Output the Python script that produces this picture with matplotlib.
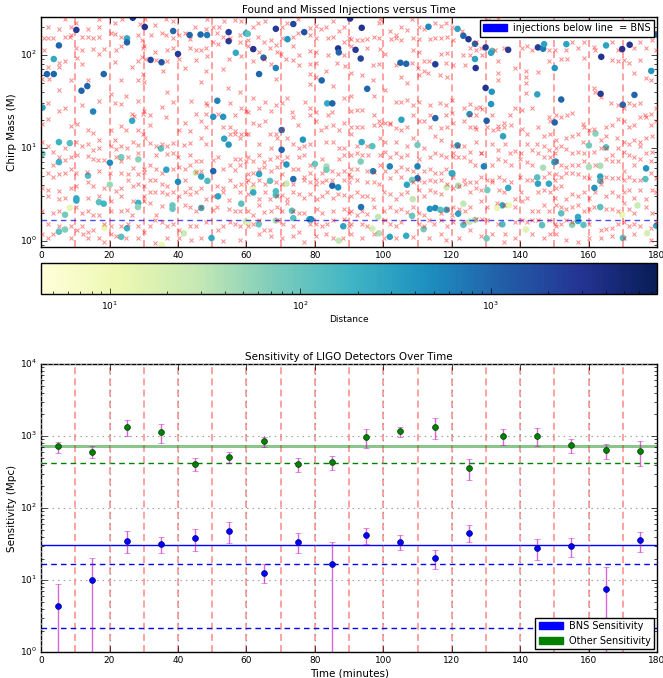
import numpy as np
import matplotlib
matplotlib.use('Agg')
import matplotlib.pyplot as plt
from matplotlib.colors import LogNorm
import matplotlib.patches as mpatches
import matplotlib.cm as cm

# ---------------- data: top panel ----------------
# found injections: (time [min], chirp mass, distance)
found_0_30 = [(26.8,250,3000),(10.3,185,2500),(25.1,150,250),(25.1,136,1000),(5.2,126,1000),
    (3.7,90,250),(1.7,62,1000),(3.7,62,1000),(18.3,62,1000),(13.5,46,1000),(11.8,41,1000),(0.4,27,300),
    (15.2,24.5,600),(26.6,19.5,250),(5.2,11.5,200),(8.4,11.2,130),(0.4,8.6,100),(23.4,7.9,80),(28.4,7.5,60),
    (5.2,7.0,200),(20.1,6.9,500),(13.7,5.0,150),(20.1,4.0,50),(10.3,2.85,250),(10.3,2.7,250),(16.9,2.6,120),
    (18.3,2.5,180),(28.4,2.55,200),(28.3,2.3,60),(8.4,2.25,12),(7.0,1.9,80),(18.5,1.38,12),(25.1,1.36,200),
    (5.2,1.25,120),(7.0,1.32,70),(23.4,1.1,120)]
found_30_60 = [(30.3,199,3000),(38.6,180,1000),(43.4,163,1000),(46.6,165,1000),(48.5,163,700),(54.8,175,2500),
    (54.8,140,2500),(59.9,170,300),(56.9,105,250),(32.0,88,2000),(35.2,83,1500),(40.0,102,2500),(51.5,32,600),
    (50.3,21.5,400),(53.2,21.5,400),(53.5,12.5,300),(54.8,10.8,400),(35.0,9.8,120),(36.6,5.8,300),(40.0,4.3,500),
    (45.2,5.4,25),(46.8,4.9,300),(48.6,4.4,150),(50.3,5.6,1000),(51.7,3.0,300),(38.4,2.4,100),(38.4,2.2,100),
    (46.8,2.25,200),(58.5,2.5,120),(41.7,1.2,25),(49.8,1.07,250),(35.2,0.9,12),(59.9,1.6,30)]
found_60_90 = [(73.7,214,2000),(68.6,190,2500),(76.9,175,1500),(60.4,168,120),(72.0,147,400),(86.8,117,3000),
    (87.0,106,1000),(62.0,115,3000),(65.0,93,1000),(68.6,72,600),(63.7,62,1000),(82.0,53,1000),(83.6,30,250),
    (85.1,30,1000),(70.3,15.5,800),(76.5,12.2,400),(70.3,9.5,1000),(71.7,6.6,400),(80.0,6.7,100),(83.4,6.3,40),
    (83.4,5.8,80),(63.7,5.2,300),(73.7,4.6,900),(66.9,4.4,120),(85.1,3.9,1000),(86.8,3.75,500),(71.7,4.1,25),
    (61.8,3.6,15),(62.0,3.3,250),(68.6,3.4,150),(68.6,3.1,150),(73.3,2.1,120),(73.7,1.75,120),(78.4,1.7,300),
    (78.9,1.7,500),(68.6,1.65,40),(63.6,1.5,100),(60.4,1.57,15),(88.3,1.43,300),(87.0,1.0,30)]
found_90_120 = [(90.3,245,3000),(93.7,195,3000),(113.2,200,500),(91.9,113,2500),(93.4,91,2000),(105.0,82,1000),
    (106.7,80,1000),(115.2,79,2500),(95.3,43,1000),(105.3,20,300),(115.2,20.8,1000),(93.7,11.5,250),(96.8,10.4,120),
    (93.4,7.1,70),(110.0,10.7,80),(101.9,6.3,600),(97.0,5.6,600),(110.0,6.3,600),(110.0,4.7,900),(108.4,4.5,80),
    (106.9,4.0,300),(120.0,5.3,250),(118.5,3.75,25),(108.6,2.8,30),(93.5,2.3,800),(113.6,2.2,400),(115.2,2.25,500),
    (116.7,2.15,120),(118.5,2.15,300),(98.5,1.8,30),(108.4,1.85,100),(96.8,1.35,20),(98.7,1.2,40),(101.9,1.1,300),
    (106.7,1.13,250),(111.8,1.33,80)]
found_120_150 = [(121.7,190,300),(123.4,160,1000),(124.9,147,3000),(126.8,131,1000),(129.9,120,2500),(131.8,110,120),
    (131.5,105,300),(136.5,113,2500),(145.2,120,2500),(146.7,116,700),(147.0,130,300),(126.8,90,300),(127.0,72,3000),
    (150.1,72,400),(129.9,44,3000),(131.7,40,400),(131.5,29.5,400),(145.0,37.5,300),(125.2,23,400),(130.2,19.5,1200),
    (135.0,13.3,300),(121.7,10.6,400),(129.4,6.3,600),(120.2,5.3,250),(136.5,3.7,250),(146.7,6.1,40),(145.0,4.8,130),
    (145.2,4.1,300),(148.4,4.1,250),(150.0,7.0,300),(130.4,3.5,80),(134.8,2.4,250),(136.7,2.4,12),(133.3,2.25,12),
    (123.4,2.5,30),(121.9,1.95,300),(123.4,1.48,130),(125.2,1.6,30),(126.8,1.67,40),(134.8,1.5,150),(141.7,1.32,15),
    (146.4,1.47,120),(130.2,1.06,80),(121.9,3.9,40)]
found_150_180 = [(153.5,130,300),(165.1,126,300),(169.8,115,3000),(172.0,128,3000),(163.7,95,3000),(178.3,67,400),
    (152.0,33,1000),(163.5,38,2500),(173.4,37,1000),(170.0,29,1000),(150.1,18.7,1000),(179.8,165,1000),(162.0,14.2,60),
    (160.1,10.6,80),(165.1,10.1,120),(150.4,7.1,400),(160.1,6.2,40),(163.4,6.4,40),(163.4,4.9,300),(163.4,4.4,150),
    (161.7,3.7,400),(176.8,6.0,400),(176.6,4.6,120),(174.3,2.4,25),(152.0,1.97,120),(163.4,2.3,120),(156.9,1.8,250),
    (156.9,1.63,250),(158.5,1.48,120),(155.2,1.48,60),(169.8,1.9,12),(170.0,1.07,120),(177.1,1.2,20),(179.8,1.45,300)]

# missed injections: (time [min], chirp mass)
missed_0_30 = [(6.9,245),(16.8,245),(10.1,222),(2.0,199),(5.1,191),(8.8,199),(13.7,190),(16.9,199),(21.5,219),(23.7,245),(29.0,215),
    (0.9,150),(2.0,150),(3.5,150),(6.9,157),(8.8,165),(8.5,157),(12.0,154),(13.7,157),(15.1,150),(16.9,154),(20.3,172),(21.7,168),(23.4,154),(28.3,165),(29.4,145),
    (0.8,113),(10.3,118),(12.0,113),(15.1,115),(16.9,103),(18.5,115),(21.9,113),(23.4,124),(29.7,118),
    (5.1,81),(2.0,74),(5.1,73),(6.9,85),(10.6,93),(12.0,80),(21.7,84),(26.6,74),(28.3,85),(29.6,95),
    (0.4,55),(2.2,55),(5.1,42),(8.8,53),(13.7,53),(16.9,32),(20.3,38),(23.4,53),(28.3,53),(29.7,62),
    (2.0,30),(5.1,25),(6.9,27),(12.0,29),(21.7,30),(23.4,29.5),(24.9,36),(27.1,22),(28.3,32),(29.7,23),(26.6,23),
    (2.0,20.4),(0.4,18),(8.8,17),(10.5,18.2),(13.7,15.4),(15.1,14.3),(16.9,12.2),(20.3,15.4),(21.7,12.2),(23.4,17.2),(24.9,15.4),(28.3,15.4),(29.7,14),
    (0.4,11.6),(2.0,10.5),(3.5,9),(6.9,10),(8.8,7.9),(10.3,11.6),(12.0,10.5),(13.7,11),(15.1,9.5),(16.9,10),(20.3,10.5),(21.8,9.7),(23.4,10.5),(25.1,10),(26.8,11.6),(28.3,10.8),
    (3.5,6.5),(5.1,7.9),(7.1,7.3),(10.5,8.4),(13.7,8.1),(15.1,7.5),(16.6,7.4),(18.5,7.4),(21.8,7.9),(23.4,7.2),(25.3,7.9),(28.3,8.7),
    (2.0,5.4),(3.5,4.9),(5.1,5.2),(6.9,5.4),(8.8,5.9),(10.3,5.4),(13.5,5.5),(16.9,5.6),(20.1,5.4),(23.4,5.4),(25.3,5.2),(26.8,6.0),(28.3,5.2),(30.0,5.5),
    (0.4,3.7),(2.0,3.55),(5.1,3.4),(8.6,3.7),(10.3,3.9),(13.7,4.3),(15.1,3.9),(18.5,3.7),(21.8,3.4),(23.4,3.7),(25.3,4.5),(26.8,3.9),(28.3,4.07),
    (2.0,3.06),(5.1,2.8),(6.9,2.9),(10.3,2.3),(13.7,2.9),(16.9,3.06),(20.3,2.66),(23.4,3.06),(25.1,2.15),(26.8,2.66),(30.0,2.66),
    (0.4,2.09),(3.5,2.0),(5.1,2.09),(12.0,2.0),(13.7,2.09),(15.1,1.91),(16.9,1.91),(20.3,2.09),(23.4,2.09),(26.6,1.91),
    (2.0,1.5),(5.1,1.43),(8.8,1.43),(10.5,1.3),(12.0,1.43),(13.7,1.24),(15.1,1.3),(18.5,1.5),(20.3,1.43),(23.4,1.43),(25.3,1.5),(28.3,1.43),
    (0.4,1.19),(2.0,1.08),(3.5,1.19),(8.8,1.08),(12.2,1.17),(13.7,1.08),(16.9,1.08),(18.5,0.98),(20.3,1.19),(21.8,1.13),(24.9,1.08),(28.3,1.08)]
missed_30_60 = [(30.3,245),(36.6,245),(38.6,231),(48.6,245),(50.3,201),(51.9,197),(53.5,231),(56.8,237),(58.3,231),(33.4,210),
    (32.0,165),(35.2,173),(36.6,165),(38.6,150),(40.3,165),(42.0,173),(43.4,147),(45.1,199),(48.3,191),(51.5,173),(53.2,157),(55.1,150),(58.0,165),
    (30.0,124),(33.4,106),(36.8,113),(38.6,118),(43.4,118),(45.2,113),(46.8,113),(48.3,118),(50.3,136),(51.8,131),(58.0,136),
    (30.5,89),(33.7,87),(36.8,85),(40.2,89),(45.4,87),(48.6,97),(54.9,89),(58.3,97),
    (35.6,67),(42.0,72),(48.3,67),(53.2,70),
    (30.1,51),(36.8,40),(46.8,51),(54.6,44),(58.0,40),
    (38.6,31),(43.7,32),(48.3,30),(48.6,28.5),(55.1,30),
    (30.1,24.7),(35.2,27.5),(58.3,27),(31.9,22.4),(36.6,21.5),(45.4,22.8),(48.3,22.8),(51.8,22.8),(56.8,22.4),(60.0,24.7),
    (31.9,17.7),(42.0,18.6),(40.3,15.4),(43.4,15.1),(46.8,19.6),(48.3,16.9),(55.1,16.9),(56.6,15.1),(58.3,14.0),
    (30.3,12.7),(31.8,11.2),(33.7,10.5),(35.2,10.9),(36.8,10.5),(38.6,11.2),(41.8,10.7),(43.4,11.2),(46.8,12.7),(48.3,10.9),(53.2,16.9),(55.1,14),(56.6,14),(58.0,12.7),(60.0,14.2),
    (33.7,8.3),(36.8,8.5),(38.6,8.7),(40.0,7.9),(43.4,8.3),(45.4,7.2),(46.8,7.2),(50.1,7.4),(51.7,7.9),(56.6,7.6),(58.0,7.6),(59.8,7.2),
    (30.1,5.9),(31.8,6.5),(33.7,5.9),(35.2,5.4),(38.6,5.9),(40.3,6.2),(42.0,5.9),(43.4,6.5),(45.2,5.5),(46.8,5.6),(53.2,5.9),(55.1,6.5),(56.6,5.8),(58.0,6.5),
    (30.1,3.9),(31.8,4.5),(33.4,4.5),(35.2,4.07),(36.8,3.9),(42.0,4.5),(43.4,3.7),(46.8,3.7),(51.5,3.9),(53.2,3.7),(55.1,4.5),(56.6,3.9),(58.3,4.07),(59.8,4.3),
    (30.1,3.06),(31.8,3.37),(33.4,3.37),(35.2,3.3),(36.8,3.2),(38.6,3.37),(40.3,3.0),(42.0,3.37),(43.4,3.2),(45.2,3.37),(48.3,2.79),(50.3,3.0),(53.2,3.37),(54.9,2.75),(58.2,3.37),
    (31.9,2.53),(33.7,1.91),(35.2,2.35),(42.0,2.45),(43.4,2.3),(45.2,2.09),(46.8,2.3),(50.1,2.15),(51.5,2.3),(54.9,2.2),(56.6,2.09),(58.2,2.09),
    (30.1,1.25),(31.8,1.43),(33.4,1.65),(35.2,1.6),(36.8,1.43),(38.6,1.5),(40.2,1.3),(43.4,1.43),(45.2,1.43),(48.3,1.58),(51.7,1.3),(53.2,1.43),(55.1,1.6),(56.6,1.5),(58.0,1.43),
    (33.2,0.94),(36.8,1.08),(40.3,1.08),(43.7,1.03),(46.8,1.08),(53.2,0.99),(58.0,1.03)]
missed_60_90 = [(62.0,199),(63.5,219),(65.4,231),(70.3,199),(72.0,219),(75.1,245),(78.5,195),(80.3,203),(81.9,191),(83.4,199),(85.3,231),(87.0,181),(88.5,199),
    (60.4,143),(63.5,157),(65.2,136),(67.1,143),(68.6,127),(70.3,150),(73.7,157),(75.1,173),(78.5,165),(80.3,150),(83.7,150),(85.3,157),(88.5,136),(90.0,150),
    (60.4,124),(63.7,106),(66.9,118),(68.8,106),(70.1,103),(73.7,124),(75.3,99),(78.7,110),(80.3,106),(83.7,99),(88.5,99),
    (62.0,85),(65.2,89),(67.1,79),(71.7,89),(73.5,87),(75.4,77),(78.5,79),(80.3,81),(86.6,81),(88.7,75),
    (68.6,55),(78.5,62),(80.3,58),(83.4,67),(85.3,46),(78.5,48),
    (60.4,24.3),(62.0,34),(63.7,27),(65.4,31),(67.1,24.7),(68.6,28.5),(70.3,30),(71.9,34),(73.4,24.3),(77.1,31),(78.7,27),(80.3,24),(83.7,22.4),(85.1,24.3),(88.5,34),
    (60.4,14),(62.0,18.6),(63.8,17.7),(65.4,19.5),(66.9,14),(68.5,14),(70.3,16),(73.7,21.3),(75.1,17.7),(78.5,22.4),(80.3,19.5),(81.7,15.4),(83.4,16.9),(85.3,17.7),(87.1,15.4),(88.5,18.6),
    (63.7,11),(67.1,10),(68.8,12.7),(71.9,12.7),(73.5,11),(75.4,10),(76.9,10.5),(78.5,11),(83.4,11.6),(85.3,11.6),(87.0,10),(88.5,10),
    (60.4,7.9),(62.0,7.2),(63.7,8.3),(65.2,7),(66.9,7.6),(68.8,7.9),(70.3,7.2),(71.9,7.9),(75.4,7.9),(76.9,8.3),(78.5,6.6),(82.1,7.6),(87.0,7.5),(88.5,8.3),
    (60.4,5.2),(62.0,5.4),(63.7,5.9),(65.2,6.2),(67.1,5.6),(68.8,6.2),(70.5,5.2),(73.5,5.9),(75.1,5.9),(76.9,4.9),(78.5,5.4),(80.3,4.5),(82.1,5.4),(85.1,5.6),(86.8,5.2),(88.5,5.6),(90.0,5.2),
    (60.4,4.5),(62.0,4.07),(63.7,4.5),(65.4,4.07),(68.5,4.3),(70.3,4.07),(73.7,4.07),(76.9,4.5),(78.5,4.3),(80.3,4.07),(82.1,4.3),(83.4,4.5),(85.1,4.5),(88.5,4.5),(90.0,4.3),
    (60.4,3.2),(63.7,2.79),(65.4,3.37),(66.9,2.79),(68.8,3.06),(70.3,3.1),(72.0,2.79),(73.7,3.37),(75.4,3.2),(76.9,2.9),(78.5,3.2),(80.5,2.79),(82.1,3.06),(83.6,3.37),(85.3,2.9),(86.8,3.2),(88.5,3.1),
    (60.4,2.09),(62.0,1.91),(63.7,2.4),(65.2,2.05),(67.1,2.09),(68.8,2.3),(70.3,2.09),(71.9,2.53),(73.7,2.09),(75.4,2.0),(76.9,2.0),(80.5,2.2),(82.1,2.0),(85.3,2.09),(88.5,2.2),(90.0,2.0),
    (60.4,1.43),(62.0,1.5),(63.7,1.65),(65.2,1.3),(66.9,1.3),(68.8,1.65),(70.6,1.5),(73.7,1.43),(75.4,1.24),(78.5,1.5),(80.3,1.5),(82.1,1.43),(83.6,1.5),(85.3,1.65),(88.5,1.73),(90.0,1.45),
    (63.7,1.19),(67.1,1.13),(70.3,1.08),(73.7,1.13),(76.9,0.98),(80.3,1.13),(83.4,1.19),(85.3,1.08),(88.3,1.08)]
missed_90_120 = [(99.0,245),(98.8,219),(101.9,181),(103.6,165),(105.2,199),(107.0,183),(108.4,245),(110.3,199),(112.0,191),(115.2,219),(116.8,203),(118.3,219),
    (90.6,146),(92.2,143),(93.7,143),(95.3,146),(97.2,157),(98.8,150),(102.2,146),(103.6,153),(105.2,143),(108.6,150),(110.3,146),(113.6,146),(115.2,150),(116.8,150),(118.5,157),
    (90.6,124),(95.3,118),(99.0,115),(100.4,103),(108.6,113),(110.3,108),(112.0,85),(113.4,85),(116.8,103),(118.5,105),
    (97.0,77),(98.8,79),(103.6,77),(108.4,81),(110.1,72),(111.8,67),(118.3,81),
    (90.6,64),(93.7,61),(97.0,53),(105.2,58),(107.0,50),(110.3,61),(113.2,64),(116.6,61),(118.5,58),
    (90.6,36),(97.2,36),(100.4,42),(103.6,31),(105.2,31),(107.0,33),(108.6,29),(110.3,31),(113.6,29),(116.6,30),(118.3,29),(120.0,33),
    (90.6,24.7),(92.2,25.7),(93.7,25.7),(97.2,22.4),(98.8,19.6),(100.4,18.6),(102.1,17.8),(108.6,22.4),(113.6,22.4),(118.3,22.4),(120.0,23.5),
    (90.6,16.9),(92.2,16.9),(93.9,16.9),(97.2,17.7),(99.0,17.7),(101.9,18.6),(103.8,16.1),(105.2,15.4),(107.0,16.9),(110.3,19.5),(112.0,19.5),(113.6,16.9),(116.8,16.1),(118.5,16.9),
    (90.6,14),(92.2,10.5),(95.3,10.5),(99.0,12.7),(100.4,11.6),(103.8,11.6),(107.0,10.5),(108.6,12.7),(111.8,10),(115.2,13.3),(116.8,12.2),(120.0,10.5),
    (90.6,8.3),(92.2,8.7),(93.9,8.3),(95.6,8.3),(99.0,8.3),(100.4,9.1),(102.1,7.9),(103.8,8.7),(105.2,8),(107.0,8.3),(110.3,7.5),(113.6,8),(115.2,8.7),(116.8,8.3),(118.3,8),
    (90.6,5.9),(92.2,5.9),(95.3,5.6),(97.2,5.5),(99.0,6.5),(100.4,5.6),(103.6,5.6),(105.2,6.2),(107.0,5.9),(108.6,5.6),(112.0,5.6),(113.6,5.9),(115.2,5.4),(116.8,5.4),(118.3,5.9),
    (90.6,4.9),(92.2,4.5),(95.3,4.3),(97.2,4.3),(98.8,4.07),(102.1,4.7),(105.2,4.9),(108.6,4.3),(110.3,4.5),(112.0,4.3),(113.6,4.5),(115.2,4.4),(116.8,4.5),(118.5,4.07),
    (90.6,3.06),(92.2,3.37),(93.9,3.06),(95.3,3.06),(97.0,2.79),(100.2,3.37),(102.1,3.2),(103.6,2.79),(105.2,3.2),(107.0,3.37),(110.3,3.5),(112.0,3.06),(113.6,3.5),(115.2,3.37),(116.8,3.2),
    (90.6,2.09),(92.2,1.91),(93.9,2.09),(95.3,1.95),(97.2,2.3),(100.2,2.09),(102.1,2.3),(103.6,2.09),(105.2,2.2),(107.0,2.05),(108.6,2.3),(110.3,2.0),(112.0,1.91),(113.4,1.65),(116.8,2.0),(118.5,2.2),(120.0,1.91),
    (90.6,1.5),(93.7,1.5),(95.3,1.43),(100.4,1.65),(102.1,1.5),(103.6,1.43),(105.2,1.58),(110.3,1.5),(112.0,1.43),(114.9,1.5),(116.8,1.65),(118.5,1.43),
    (90.6,1.19),(93.7,1.08),(97.2,1.19),(100.2,1.08),(103.8,1.08),(108.6,1.1),(113.4,1.08),(116.8,1.19),(118.3,1.03)]
missed_120_150 = [(120.2,199),(123.1,181),(120.5,143),(125.2,118),(127.2,136),(128.7,118),(130.2,219),(133.6,245),(123.4,100),(125.2,100),(128.9,100),(130.7,235),
    (120.5,77),(123.8,77),(127.0,113),(132.6,113),(133.6,85),(135.2,118),(138.4,72),(140.4,118),(142.0,124),(143.5,113),(145.2,66),(148.3,113),(150.1,113),
    (133.6,64),(133.6,53),(141.8,67),(141.7,58),(141.7,50),(141.8,39),(148.3,85),
    (123.6,27),(125.2,29.5),(127.0,27),(128.4,27.5),(125.2,22.4),(127.2,22.4),(128.9,26),(131.8,22.4),(133.6,17.3),(135.2,16.9),(136.9,22.4),(138.6,26.9),(140.4,25.7),(143.5,26.9),(148.3,21.4),(148.6,19.5),
    (120.5,18.6),(123.6,19.5),(125.2,16.9),(126.8,16.9),(127.0,16),(130.2,16.9),(132.0,15.4),(133.6,16),(135.2,18.6),(137.2,17.7),(140.4,16),(142.0,14),(145.2,16.9),(146.9,13.3),(148.6,14),
    (120.5,8.7),(121.9,10.5),(123.6,10.5),(125.2,9.1),(127.2,11.6),(128.7,8.8),(131.8,11),(133.6,9.5),(135.5,11),(137.0,8.7),(138.6,9.3),(140.1,8.7),(142.0,11),(143.5,9.5),(145.0,11),(146.9,10.5),(148.3,9.5),(150.1,8.7),
    (120.5,8),(121.9,8),(123.6,7.9),(125.2,7.2),(126.8,6.5),(128.7,8.7),(131.7,6.5),(133.6,7.5),(135.5,7.2),(137.2,6.5),(139.9,7.5),(141.9,7),(143.5,6.5),(145.2,8.7),(146.9,7.9),(148.6,7.9),
    (120.5,4.9),(123.6,4.5),(125.2,4.3),(127.0,4.3),(128.7,4.9),(130.2,4.5),(131.8,4.5),(133.8,4.9),(135.2,4.5),(137.2,4.3),(139.9,4.9),(141.9,4.5),(143.5,4.5),(146.9,4.9),(148.3,5.4),(150.1,4.5),
    (120.5,3.7),(122.1,3.9),(123.8,4.07),(125.2,3.37),(127.0,3.7),(128.7,3.55),(131.8,4.3),(133.8,3.55),(135.2,3.37),(138.4,2.79),(140.1,3.37),(142.0,2.9),(145.2,3.37),(146.9,3.55),(148.6,3.37),(150.1,2.9),
    (120.5,2.3),(122.1,2.2),(123.8,2.09),(125.2,2.3),(128.7,2.65),(130.4,2.3),(133.3,2.53),(135.2,2.4),(138.4,2.3),(140.4,2.65),(143.5,2.09),(145.2,2.09),(146.9,2.4),(148.3,2.09),
    (120.5,1.58),(123.6,1.58),(125.2,1.3),(127.0,1.73),(128.9,1.73),(130.4,1.65),(133.6,1.5),(135.5,1.19),(138.6,1.58),(140.4,1.65),(142.0,1.58),(143.5,1.65),(145.2,1.65),(148.3,1.65),(150.1,1.5),
    (122.1,1.08),(128.7,1.13),(131.8,1.19),(135.2,0.98),(138.6,1.08),(143.5,1.19),(146.9,1.08),(148.6,1.19)]
missed_150_180 = [(153.5,113),(155.2,136),(156.9,118),(158.6,136),(161.7,122),(166.9,136),(168.5,113),(170.3,87),(173.4,118),(175.1,136),(176.8,118),(178.5,143),(179.8,113),
    (152.0,91),(153.7,91),(158.6,93),(162.0,113),(166.9,87),(168.5,85),(171.9,82),(173.4,64),(175.1,87),(176.8,56),(178.3,53),
    (161.7,44),(162.0,40),(163.7,35),(166.6,30),(168.5,29),(170.3,27),(171.7,30),(173.4,29),(175.1,30),(176.6,22.4),(178.3,23),(179.8,27),
    (150.4,22.4),(152.0,21.4),(153.7,22.4),(155.2,23.5),(158.5,18),(158.6,16.9),(165.1,16.9),(166.8,17.7),(168.5,20.4),(170.3,19.5),(171.7,16.9),(173.4,17.7),(175.1,21.4),(176.8,21.4),(178.3,17.7),(179.8,19.5),
    (150.4,12.2),(153.5,12.7),(155.2,13.3),(156.9,14),(158.5,11.6),(160.1,15.4),(161.7,16),(163.5,12.2),(165.1,13.3),(168.3,12.7),(170.3,11.6),(171.7,11),(173.4,12.2),(175.1,11.6),(176.8,12.7),(178.5,13.3),
    (150.4,10),(152.0,10.5),(153.5,9.8),(155.2,8.7),(156.9,9.1),(158.6,8.7),(161.7,9.1),(163.5,10),(165.1,10),(166.9,8.3),(168.5,10),(170.3,9.1),(171.7,8.3),(173.4,7.9),(175.1,10.5),(176.8,8.7),(178.5,9.1),
    (150.4,7.2),(152.0,6.5),(153.5,6.2),(155.2,6.5),(156.9,6.5),(158.6,7.2),(162.0,6.5),(165.1,7.5),(166.9,7.2),(168.5,7.2),(170.3,5.6),(173.4,6.5),(175.1,7.5),(178.3,7.2),
    (150.4,5.2),(151.8,4.9),(153.5,5.4),(155.2,5.4),(156.9,5.2),(158.6,4.9),(160.1,4.7),(163.5,4.5),(165.1,4.9),(166.9,4.7),(168.5,4.7),(170.3,4.5),(171.9,4.9),(173.4,4.5),(175.1,4.5),(178.3,5.4),(179.8,4.7),
    (150.4,3.7),(152.0,3.9),(153.5,2.79),(155.2,3.2),(156.9,3.06),(158.6,3.37),(160.1,2.9),(162.0,3.37),(163.5,4.07),(165.1,3.06),(166.9,3.37),(168.5,3.06),(170.3,3.37),(171.7,3.55),(173.4,2.9),(175.1,3.55),(176.8,2.79),(178.5,3.55),(179.8,3.37),
    (150.4,2.4),(151.8,2.3),(153.5,2.2),(155.2,2.3),(156.9,2.4),(158.6,2.09),(160.1,2.2),(161.7,2.3),(165.1,2.2),(166.9,2.2),(168.5,2.09),(170.3,2.53),(171.9,2.2),(173.4,2.0),(176.8,2.3),(178.5,2.0),
    (150.4,1.43),(152.0,1.5),(153.5,1.65),(155.2,1.6),(160.1,1.5),(163.5,1.3),(165.1,1.32),(166.9,1.36),(168.5,1.5),(170.3,1.6),(171.9,1.43),(173.4,1.5),(175.1,1.43),(178.3,1.36),(179.8,1.58),
    (150.4,1.19),(153.5,1.03),(156.9,0.98),(160.1,1.08),(163.7,1.08),(166.9,1.13),(170.3,1.08),(173.4,1.19),(178.3,1.03)]

bns_mchirp_line = 1.67
bin_edges = [10, 20, 30, 40, 50, 60, 70, 80, 90, 100, 110, 120, 130, 140, 150, 160, 170]

# ---------------- data: bottom panel ----------------
other_time = [5, 15, 25, 35, 45, 55, 65, 75, 85, 95, 105, 115, 125, 135, 145, 155, 165, 175]
other_val = [721, 608, 1336, 1127, 414, 518, 845, 405, 437, 961, 1164, 1350, 365, 993, 1014, 745, 641, 614]
other_lo = [589, 491, 1013, 794, 331, 419, 698, 321, 339, 676, 980, 921, 246, 745, 728, 577, 480, 384]
other_hi = [836, 728, 1652, 1455, 491, 608, 961, 491, 535, 1241, 1320, 1763, 476, 1241, 1280, 912, 785, 851]

bns_time = [5, 15, 25, 35, 45, 55, 65, 75, 85, 95, 105, 115, 125, 145, 155, 165, 175]
bns_val = [4.35, 10.1, 35.4, 31.5, 39, 48.7, 12.7, 33.9, 16.6, 42, 34.3, 20.1, 45.7, 28, 30.2, 7.48, 36.2]
bns_lo = [0.3, 0.3, 23.6, 23.6, 25.7, 32.5, 9.06, 23.6, 0.3, 31.8, 26.3, 14.2, 33.6, 19.1, 21.2, 0.3, 24.9]
bns_hi = [8.8, 20.1, 47.7, 39.4, 52, 65, 16.6, 44.8, 33.6, 53.6, 42, 26, 58.4, 37, 39, 15.1, 46.2]

other_mean = 740
other_dashed = 425
bns_mean = 31
bns_dashed = [16.8, 2.2]

# ---------------- plotting ----------------
plt.style.use('classic')
plt.rcParams['font.family'] = ['DejaVu Sans']
plt.rcParams['figure.facecolor'] = 'white'
plt.rcParams['savefig.facecolor'] = 'white'

fig = plt.figure(figsize=(6.63, 6.78), dpi=100)
ax1 = fig.add_axes([0.062, 0.636, 0.929, 0.339])
cax = fig.add_axes([0.062, 0.566, 0.929, 0.046])
ax2 = fig.add_axes([0.062, 0.038, 0.929, 0.425])

TICK = 6.5
LAB = 7.5

found = found_0_30 + found_30_60 + found_60_90 + found_90_120 + found_120_150 + found_150_180
missed = missed_0_30 + missed_30_60 + missed_60_90 + missed_90_120 + missed_120_150 + missed_150_180
ft = np.array([f[0] for f in found]); fm = np.array([f[1] for f in found]); fd = np.array([f[2] for f in found])
mt = np.array([m[0] for m in missed]); mm = np.array([m[1] for m in missed])

norm = LogNorm(vmin=4.35, vmax=7450)
cmap = plt.get_cmap('YlGnBu')

ax1.scatter(ft, fm, c=fd, cmap=cmap, norm=norm, s=22, edgecolors='none', zorder=2)
ax1.plot(mt, mm, 'x', color='red', alpha=0.45, markersize=3.5, mew=0.75, zorder=3)
for e in bin_edges:
    ax1.axvline(e, color='red', ls='--', lw=1.3, alpha=0.4, dashes=(5, 3), zorder=1)
ax1.axhline(bns_mchirp_line, color='blue', ls='--', lw=1, alpha=0.7, dashes=(4, 3))
ax1.set_yscale('log')
ax1.set_xlim(0, 180)
ax1.set_ylim(0.86, 255)
ax1.set_title('Found and Missed Injections versus Time', fontsize=LAB, pad=3)
ax1.set_xlabel('Time (minutes)', fontsize=LAB, labelpad=2)
ax1.set_ylabel('Chirp Mass (M)', fontsize=LAB, labelpad=2)
ax1.tick_params(labelsize=TICK, pad=3)
ax1.set_xticks(range(0, 181, 20))
h1 = mpatches.Patch(color='blue')
ax1.legend([h1], ['injections below line  = BNS'], loc='upper right', fontsize=7,
           borderaxespad=0.3, handlelength=2.5, handletextpad=0.6, borderpad=0.35, framealpha=1)

sm = cm.ScalarMappable(norm=norm, cmap=cmap)
sm.set_array([])
cb = fig.colorbar(sm, cax=cax, orientation='horizontal')
cb.set_label('Distance', fontsize=6.5, labelpad=2)
cb.ax.tick_params(labelsize=TICK)
cb.outline.set_linewidth(1)

# bottom panel
ov = np.array(other_val); bv = np.array(bns_val)
oerr = [ov - np.array(other_lo), np.array(other_hi) - ov]
berr = [bv - np.array(bns_lo), np.array(bns_hi) - bv]
for e in bin_edges:
    ax2.axvline(e, color='red', ls='--', lw=1.3, alpha=0.4, dashes=(5, 3), zorder=1)
ax2.grid(True, which='major', color='0.6', ls=':', lw=0.8)
ax2.axhline(other_mean, color='green', lw=2.2, alpha=0.45)
ax2.axhline(other_dashed, color='green', lw=1, ls='--', dashes=(4, 3))
ax2.axhline(bns_mean, color='blue', lw=1)
for d in bns_dashed:
    ax2.axhline(d, color='blue', lw=1, ls='--', dashes=(4, 3))
ax2.errorbar(other_time, ov, yerr=oerr, fmt='none', ecolor='m', elinewidth=1,
             capsize=2, alpha=0.6, zorder=4)
ax2.plot(other_time, ov, 'o', color='green', markersize=4.2, mec='#004000', mew=0.5, zorder=5)
ax2.errorbar(bns_time, bv, yerr=berr, fmt='none', ecolor='m', elinewidth=1,
             capsize=2, alpha=0.6, zorder=4)
ax2.plot(bns_time, bv, 'o', color='blue', markersize=4.2, mec='#000080', mew=0.5, zorder=5)
ax2.set_yscale('log')
ax2.set_xlim(0, 180)
ax2.set_ylim(1, 1e4)
ax2.set_xticks(range(0, 181, 20))
ax2.set_title('Sensitivity of LIGO Detectors Over Time', fontsize=LAB, pad=3)
ax2.set_xlabel('Time (minutes)', fontsize=LAB, labelpad=2)
ax2.set_ylabel('Sensitivity (Mpc)', fontsize=LAB, labelpad=2)
ax2.tick_params(labelsize=TICK, pad=3)
hb = mpatches.Patch(color='blue')
hg = mpatches.Patch(color='green')
ax2.legend([hb, hg], ['BNS Sensitivity', 'Other Sensitivity'], loc='lower right', fontsize=7,
           borderaxespad=0.3, handlelength=2.5, handletextpad=0.6, borderpad=0.35, framealpha=1)

fig.savefig('out.png', dpi=100)
